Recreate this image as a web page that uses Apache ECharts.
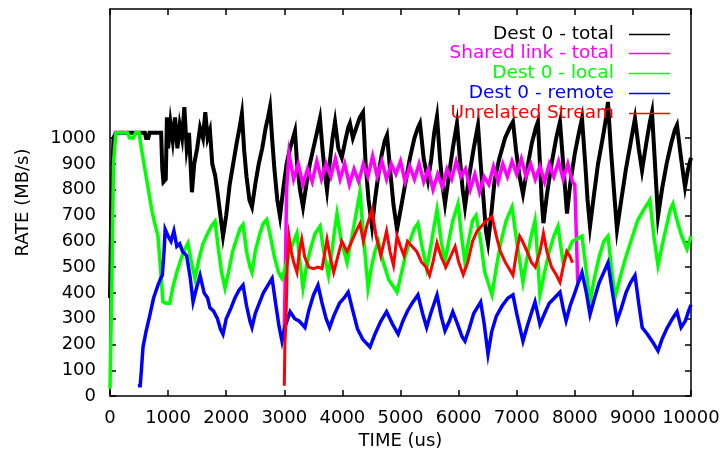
<!DOCTYPE html>
<html>
<head>
<meta charset="utf-8">
<script src="https://cdn.jsdelivr.net/npm/echarts@6/dist/echarts.min.js"></script>
<style>html,body{margin:0;padding:0;background:#fff}#c{width:724px;height:455px}</style>
</head>
<body>
<div id="c"></div>
<script>
const seriesNames = ['Dest 0 - total', 'Shared link - total', 'Dest 0 - local', 'Dest 0 - remote', 'Unrelated Stream'];
const seriesColors = ['#000000', '#ff00ff', '#00ff00', '#0000ff', '#ff0000'];
const yTickValues = [0, 100, 200, 300, 400, 500, 600, 700, 800, 900, 1000];

const destTotal = [[0,380],[20,700],[60,1000],[100,1020],[600,1020],[620,1000],[660,1000],[680,1020],[880,1020],[900,880],[920,830],[960,840],[980,1080],[1000,960],[1040,1060],[1080,990],[1120,1080],[1160,960],[1200,1050],[1240,1000],[1280,1120],[1320,960],[1360,1020],[1410,790],[1450,900],[1500,960],[1550,1040],[1600,1000],[1640,1100],[1680,1000],[1720,1030],[1760,900],[1810,855],[1850,790],[1900,700],[1945,620],[2000,700],[2060,820],[2120,900],[2180,980],[2230,1040],[2270,1095],[2310,950],[2350,850],[2400,760],[2444,733],[2500,820],[2560,900],[2620,960],[2680,1040],[2720,1080],[2754,1120],[2790,1000],[2830,880],[2880,760],[2926,696],[2980,800],[3040,900],[3100,960],[3150,1000],[3184,1027],[3220,900],[3270,800],[3322,733],[3380,820],[3440,900],[3500,960],[3560,1020],[3614,1076],[3660,950],[3700,860],[3735,798],[3780,900],[3830,1000],[3873,1063],[3930,960],[3990,924],[4050,990],[4100,1040],[4130,1057],[4180,1000],[4240,1040],[4300,1080],[4355,1100],[4400,900],[4450,760],[4510,658],[4560,760],[4620,860],[4680,940],[4730,990],[4768,1011],[4820,880],[4880,740],[4940,646],[5000,720],[5080,820],[5160,920],[5240,1000],[5300,1040],[5335,1057],[5400,920],[5473,836],[5530,920],[5580,1020],[5628,1083],[5680,920],[5720,820],[5766,745],[5830,850],[5900,960],[5972,1057],[6030,900],[6070,800],[6110,733],[6180,850],[6260,960],[6334,1050],[6380,900],[6430,760],[6470,640],[6506,593],[6560,700],[6620,836],[6700,920],[6800,1000],[6880,1040],[6936,1063],[6990,950],[7050,850],[7108,783],[7180,880],[7260,980],[7330,1040],[7366,1063],[7400,900],[7430,760],[7460,670],[7520,780],[7600,900],[7680,1000],[7745,1063],[7800,900],[7866,707],[7920,820],[8000,940],[8070,1020],[8124,1076],[8180,900],[8220,760],[8262,658],[8330,780],[8400,900],[8480,1000],[8540,1080],[8571,1140],[8620,960],[8680,780],[8726,646],[8800,760],[8880,880],[8960,980],[9036,1076],[9100,960],[9157,874],[9230,980],[9290,1060],[9329,1100],[9380,900],[9432,696],[9500,800],[9580,900],[9660,980],[9720,1030],[9759,1050],[9830,920],[9897,810],[9950,880],[10000,924]];

const sharedTotal = [[3000,260],[3020,520],[3040,800],[3080,940],[3160,840],[3240,900],[3320,820],[3400,880],[3480,830],[3560,910],[3640,840],[3720,900],[3800,850],[3880,920],[3960,840],[4040,900],[4120,820],[4200,880],[4280,830],[4360,900],[4440,850],[4520,930],[4600,850],[4680,910],[4760,840],[4840,900],[4920,860],[5000,910],[5080,830],[5160,890],[5240,840],[5320,900],[5400,830],[5480,880],[5560,800],[5640,860],[5720,810],[5800,880],[5880,840],[5960,910],[6040,850],[6120,880],[6200,800],[6280,860],[6360,790],[6440,850],[6520,820],[6600,890],[6680,830],[6760,900],[6840,850],[6920,910],[7000,860],[7080,920],[7160,850],[7240,900],[7320,840],[7400,890],[7480,830],[7560,900],[7640,850],[7720,910],[7800,840],[7880,900],[7960,830],[8000,820],[8030,600],[8050,440]];

const destLocal = [[0,30],[30,400],[60,900],[100,1020],[300,1020],[340,1000],[400,1000],[440,1020],[500,1020],[540,960],[600,880],[660,800],[720,720],[780,660],[826,620],[860,520],[900,400],[913,365],[960,360],[1030,360],[1080,420],[1150,480],[1220,530],[1290,570],[1342,593],[1400,520],[1463,456],[1530,530],[1600,590],[1680,630],[1750,660],[1808,677],[1860,580],[1920,480],[1980,418],[2040,480],[2110,560],[2180,610],[2240,650],[2290,665],[2350,560],[2410,500],[2444,479],[2500,560],[2580,630],[2640,670],[2697,684],[2760,620],[2830,540],[2900,480],[2960,456],[3020,500],[3100,560],[3160,600],[3218,631],[3270,520],[3322,418],[3380,500],[3450,570],[3530,630],[3614,658],[3680,560],[3760,468],[3820,560],[3870,650],[3907,707],[3980,600],[4080,517],[4150,600],[4230,700],[4303,791],[4370,600],[4441,418],[4500,500],[4560,560],[4620,600],[4700,520],[4800,450],[4940,403],[5000,460],[5080,540],[5160,600],[5240,650],[5300,669],[5370,580],[5450,494],[5520,580],[5580,660],[5628,722],[5700,600],[5766,520],[5830,600],[5900,680],[5990,745],[6050,620],[6110,517],[6170,600],[6240,680],[6300,700],[6380,600],[6450,480],[6575,392],[6650,500],[6730,600],[6820,680],[6920,733],[7000,600],[7108,441],[7180,540],[7250,620],[7315,680],[7360,540],[7400,392],[7480,480],[7560,560],[7640,620],[7711,658],[7760,580],[7800,517],[7880,560],[7960,600],[8124,620],[8200,480],[8262,365],[8340,460],[8420,540],[8500,600],[8571,620],[8630,500],[8692,380],[8780,460],[8880,540],[8980,610],[9080,680],[9180,720],[9294,760],[9360,620],[9432,506],[9500,580],[9580,660],[9640,720],[9690,745],[9760,680],[9840,620],[9931,570],[10000,620]];

const destRemote = [[480,40],[520,40],[540,100],[568,190],[620,250],[688,316],[750,380],[826,430],[880,460],[900,468],[930,560],[950,646],[1000,620],[1050,600],[1100,640],[1150,580],[1200,590],[1250,560],[1320,544],[1380,460],[1430,365],[1490,420],[1550,468],[1620,400],[1680,380],[1720,342],[1780,330],[1850,300],[1900,260],[1945,240],[2000,300],[2080,340],[2150,380],[2220,410],[2290,430],[2350,350],[2410,290],[2444,266],[2500,320],[2570,360],[2640,400],[2720,430],[2790,456],[2850,360],[2910,270],[2960,213],[3000,260],[3060,300],[3100,327],[3180,300],[3260,290],[3356,266],[3420,330],[3500,390],[3580,430],[3650,360],[3720,300],[3780,266],[3850,310],[3950,360],[4030,380],[4100,403],[4180,330],[4260,260],[4350,220],[4475,190],[4560,240],[4660,290],[4760,327],[4860,280],[4960,240],[5040,290],[5120,330],[5200,360],[5300,392],[5380,320],[5450,266],[5520,320],[5580,360],[5628,392],[5700,310],[5766,253],[5840,290],[5900,327],[5980,280],[6060,230],[6110,213],[6180,260],[6260,320],[6380,365],[6440,280],[6506,163],[6570,250],[6650,310],[6750,350],[6850,380],[6936,392],[7000,320],[7108,213],[7180,270],[7250,320],[7315,365],[7360,320],[7400,278],[7480,320],[7560,360],[7650,380],[7745,403],[7800,340],[7850,292],[7920,350],[8000,400],[8060,440],[8124,479],[8200,400],[8262,316],[8340,380],[8420,440],[8500,480],[8571,517],[8650,400],[8726,292],[8800,340],[8880,400],[8960,440],[9036,468],[9100,360],[9160,266],[9250,240],[9340,210],[9432,175],[9500,220],[9580,260],[9680,300],[9759,327],[9830,266],[9900,290],[9960,330],[10000,354]];

const unrelatedStream = [[3000,40],[3010,200],[3030,300],[3050,500],[3080,620],[3120,560],[3160,520],[3218,479],[3260,560],[3300,608],[3350,540],[3420,500],[3500,494],[3580,500],[3650,494],[3700,560],[3735,608],[3790,540],[3850,479],[3920,540],[3990,600],[4080,560],[4160,600],[4240,640],[4303,669],[4360,600],[4420,660],[4510,722],[4580,620],[4660,544],[4720,600],[4760,640],[4820,560],[4880,506],[4940,620],[5000,580],[5060,544],[5120,600],[5200,580],[5280,560],[5360,520],[5440,500],[5500,468],[5560,520],[5628,594],[5700,540],[5780,500],[5860,540],[5940,580],[6000,520],[6080,470],[6160,520],[6240,600],[6320,640],[6400,660],[6480,680],[6575,696],[6650,620],[6720,560],[6800,520],[6880,490],[6936,468],[7000,560],[7050,620],[7100,600],[7180,560],[7250,520],[7320,500],[7400,560],[7460,631],[7520,560],[7600,500],[7680,470],[7745,441],[7800,500],[7860,560],[7920,540],[7960,517]];

const seriesData = [destTotal, sharedTotal, destLocal, destRemote, unrelatedStream];
const lineWidths = [4, 3.5, 3.5, 3.5, 3];

const FONT = 'DejaVu Sans';
const legendTops = [25, 44, 64, 84, 104];

const chart = echarts.init(document.getElementById('c'), null, {renderer: 'canvas'});
const tickStyle = {show: true, inside: true, length: 6, lineStyle: {color: '#000', width: 1.5}};
const lineAx = {show: true, onZero: false, lineStyle: {color: '#000', width: 1.5}};
const plain = v => String(v);

chart.setOption({
  animation: false,
  backgroundColor: '#fff',
  grid: {left: 110, top: 9, right: 33, bottom: 52, containLabel: false},
  legend: seriesNames.map((n, i) => ({
    data: [{name: n, textStyle: {color: seriesColors[i]}}],
    right: 54, top: legendTops[i], padding: 0,
    orient: 'vertical', align: 'right', selectedMode: false,
    icon: 'rect', itemWidth: 41, itemHeight: 1.5,
    textStyle: {fontFamily: FONT, fontSize: 18.5, padding: [0, 10, 0, 0]}
  })),
  xAxis: [
    {type: 'value', min: 0, max: 10000, interval: 1000, position: 'bottom',
     name: 'TIME (us)', nameLocation: 'middle', nameGap: 26,
     nameTextStyle: {fontFamily: FONT, fontSize: 18, color: '#000'},
     axisLine: lineAx, axisTick: tickStyle, splitLine: {show: false},
     axisLabel: {fontFamily: FONT, fontSize: 18, color: '#000', margin: 13, formatter: plain, showMaxLabel: true, showMinLabel: true}},
    {type: 'value', min: 0, max: 10000, interval: 1000, position: 'top',
     axisLine: lineAx, axisTick: tickStyle, splitLine: {show: false}, axisLabel: {show: false}}
  ],
  yAxis: [
    {type: 'value', min: 0, max: 1500, interval: 100, position: 'left',
     name: 'RATE (MB/s)', nameLocation: 'middle', nameGap: 78,
     nameTextStyle: {fontFamily: FONT, fontSize: 18, color: '#000'},
     axisLine: lineAx, splitLine: {show: false},
     axisTick: Object.assign({customValues: yTickValues}, tickStyle),
     axisLabel: {fontFamily: FONT, fontSize: 18, color: '#000', margin: 14, formatter: plain, customValues: yTickValues}},
    {type: 'value', min: 0, max: 1500, interval: 100, position: 'right',
     axisLine: lineAx, splitLine: {show: false},
     axisTick: Object.assign({customValues: yTickValues}, tickStyle),
     axisLabel: {show: false}}
  ],
  series: seriesNames.map((n, i) => ({
    name: n, type: 'line', xAxisIndex: 0, yAxisIndex: 0,
    data: seriesData[i], symbol: 'none', showSymbol: false,
    color: seriesColors[i],
    lineStyle: {color: seriesColors[i], width: lineWidths[i], join: 'miter'},
    z: 2 + i
  }))
});
</script>
</body>
</html>
